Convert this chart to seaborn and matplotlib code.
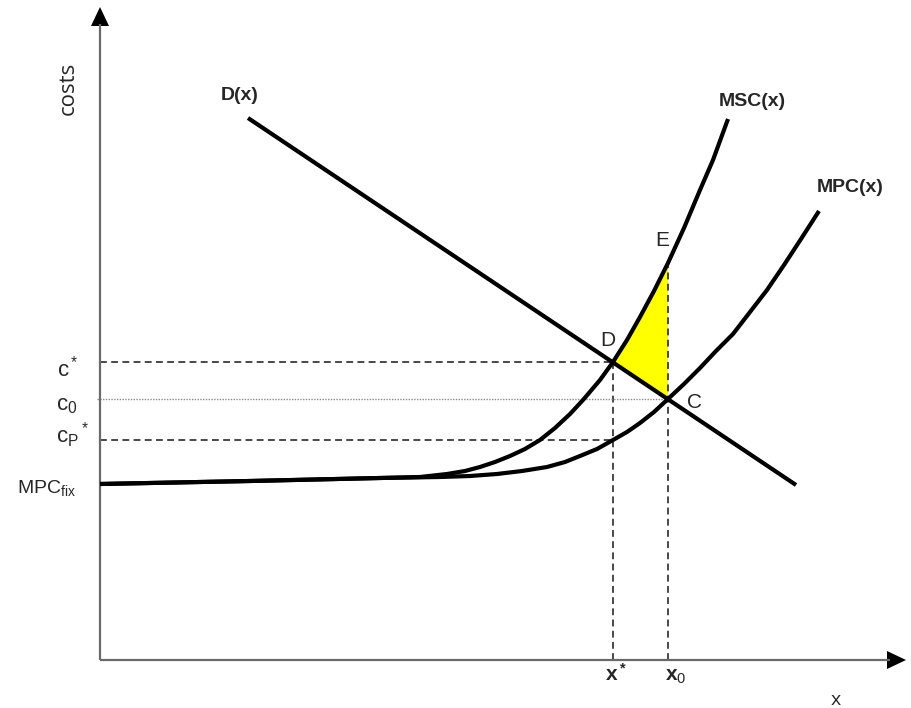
import numpy as np
import pandas as pd
import matplotlib
matplotlib.use("Agg")
import matplotlib.pyplot as plt
import seaborn as sns

# curves (quantity, cost)
msc_x = [0.0, 1.5, 2.8, 3.2, 3.47, 3.65, 3.8, 3.95, 4.1, 4.25, 4.4, 4.55, 4.7, 4.83,
         5.0, 5.13, 5.27, 5.4, 5.54, 5.68, 5.84, 6.0, 6.13, 6.28]
msc_y = [1.76, 1.79, 1.82, 1.83, 1.86, 1.89, 1.93, 1.98, 2.04, 2.11, 2.20, 2.32, 2.46, 2.60,
         2.80, 2.98, 3.20, 3.43, 3.69, 3.97, 4.32, 4.70, 5.00, 5.41]

mpc_x = [0.0, 1.5, 2.8, 3.4, 3.7, 3.97, 4.22, 4.47, 4.65, 4.8, 4.97, 5.13, 5.27, 5.4,
         5.54, 5.68, 5.84, 6.0, 6.16, 6.33, 6.5, 6.67, 6.84, 7.01, 7.19]
mpc_y = [1.76, 1.79, 1.82, 1.83, 1.84, 1.86, 1.89, 1.93, 1.98, 2.04, 2.11, 2.20, 2.28, 2.37,
         2.48, 2.61, 2.76, 2.92, 3.09, 3.26, 3.48, 3.70, 3.95, 4.21, 4.49]

dem_x = [1.48, 6.96]
dem_y = [5.42, 1.75]

x_star, x_0 = 5.13, 5.68
c_star, c_0, c_p = 2.98, 2.61, 2.20
e_cost = 3.97

sns.set_theme(style="white")
plt.rcParams["font.family"] = ["Liberation Sans", "DejaVu Sans"]
plt.rcParams["mathtext.fontset"] = "custom"
plt.rcParams["mathtext.rm"] = "Liberation Sans"
plt.rcParams["mathtext.it"] = "Liberation Sans:italic"
plt.rcParams["mathtext.bf"] = "Liberation Sans:bold"

fig = plt.figure(figsize=(9.12, 7.08), dpi=100)
ax = fig.add_axes([0, 0, 1, 1])

# welfare loss triangle D-E-C
mx = np.array(msc_x)
my = np.array(msc_y)
sel = (mx >= x_star) & (mx <= x_0)
poly_x = list(mx[sel]) + [x_0]
poly_y = list(my[sel]) + [c_0]
ax.fill(poly_x, poly_y, color="#ffff00", lw=0, zorder=1)

# guide lines
dash = dict(color="#3a3a3a", lw=1.3, dashes=(3.8, 2.4), zorder=2)
ax.plot([0, x_star], [c_star, c_star], **dash)
ax.plot([0, x_star], [c_p, c_p], **dash)
ax.plot([x_star, x_star], [0, c_star], **dash)
ax.plot([x_0, x_0], [0, e_cost], **dash)
ax.plot([-0.03, x_0], [c_0, c_0], color="#8a8a8a", lw=1.0, ls=(0, (1, 1)), zorder=2)

# curves
curves = pd.concat([
    pd.DataFrame({"x": msc_x, "y": msc_y, "curve": "MSC"}),
    pd.DataFrame({"x": mpc_x, "y": mpc_y, "curve": "MPC"}),
    pd.DataFrame({"x": dem_x, "y": dem_y, "curve": "D"}),
])
for name, grp in curves.groupby("curve"):
    sns.lineplot(data=grp, x="x", y="y", ax=ax, color="black", lw=3.0,
                 sort=False, estimator=None, zorder=3,
                 solid_joinstyle="round", solid_capstyle="butt")

ax.set_xlim(-1.0, 8.12)
ax.set_ylim(-0.48, 6.60)
ax.axis("off")

# axes with arrow heads
axis_col = "#6a6a6a"
ax.plot([0, 7.9], [0, 0], color=axis_col, lw=1.6, solid_capstyle="butt", zorder=2)
ax.plot([0, 0], [0, 6.36], color=axis_col, lw=1.6, solid_capstyle="butt", zorder=2)
ax.fill([7.87, 8.06, 7.87], [0.09, 0, -0.09], color="black", lw=0)
ax.fill([-0.09, 0, 0.09], [6.34, 6.53, 6.34], color="black", lw=0)

# curve labels
bold = dict(fontsize=14, fontweight="bold", ha="center", va="center")
ax.text(1.40, 5.64, "D(x)", **bold)
ax.text(6.52, 5.58, "MSC(x)", **bold)
ax.text(7.50, 4.73, "MPC(x)", **bold)

pts = dict(fontsize=15, ha="center", va="center")
ax.text(5.62, 4.20, "E", **pts)
ax.text(5.08, 3.20, "D", **pts)
ax.text(5.95, 2.58, "C", **pts)

# cost levels on the vertical axis
lvl = dict(fontsize=16, ha="left", va="baseline")
ax.text(-0.43, 2.83, r"$\mathrm{c^*}$", **lvl)
ax.text(-0.44, 2.50, r"$\mathrm{c_0}$", **lvl)
ax.text(-0.44, 2.17, r"$\mathrm{c_P{}^*}$", **lvl)
ax.text(-0.83, 1.67, r"$\mathrm{MPC_{fix}}$", fontsize=14, ha="left", va="baseline")

# quantities on the horizontal axis
ax.text(5.05, -0.21, r"$\mathbf{x^*}$", fontsize=15, ha="left", va="baseline")
ax.text(5.65, -0.21, r"$\mathbf{x}_\mathrm{0}$", fontsize=15, ha="left", va="baseline")

# axis titles
ax.text(-0.32, 5.72, "costs", fontsize=16, family="Open Sans", rotation=90,
        ha="center", va="center")
ax.text(7.36, -0.40, "x", fontsize=14, family="Open Sans", ha="center", va="center")

fig.savefig("out.png", dpi=100, facecolor="white")
